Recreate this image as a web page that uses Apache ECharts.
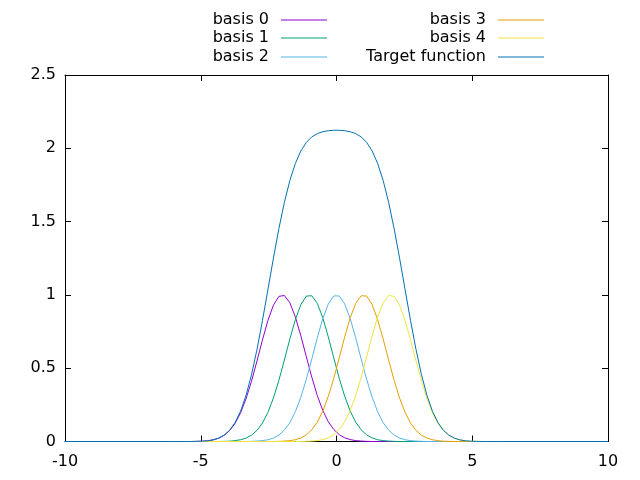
<!DOCTYPE html>
<html>
<head>
<meta charset="utf-8">
<script src="https://cdn.jsdelivr.net/npm/echarts@6/dist/echarts.min.js"></script>
<style>html,body{margin:0;padding:0;background:#fff}#c{width:640px;height:480px}</style>
</head>
<body>
<div id="c"></div>
<script>
// Sample positions (x)
var xs = [-10,
 -5.960,-5.758,-5.556,-5.354,-5.152,-4.949,-4.747,-4.545,-4.343,-4.141,
 -3.939,-3.737,-3.535,-3.333,-3.131,-2.929,-2.727,-2.525,-2.323,-2.121,
 -1.919,-1.717,-1.515,-1.313,-1.111,-0.909,-0.707,-0.505,-0.303,-0.101,
 0.101,0.303,0.505,0.707,0.909,1.111,1.313,1.515,1.717,1.919,
 2.121,2.323,2.525,2.727,2.929,3.131,3.333,3.535,3.737,3.939,
 4.141,4.343,4.545,4.747,4.949,5.152,5.354,5.556,5.758,5.960,
 10];

var basis0 = [0,
 0,0,0,0,0.001,0.002,0.005,0.011,0.022,0.042,
 0.074,0.123,0.195,0.291,0.411,0.549,0.693,0.826,0.930,0.990,
 0.996,0.946,0.849,0.721,0.578,0.438,0.313,0.212,0.135,0.082,
 0.047,0.025,0.013,0.006,0.003,0.001,0,0,0,0,
 0,0,0,0,0,0,0,0,0,0,
 0,0,0,0,0,0,0,0,0,0,
 0];

var basis1 = [0,
 0,0,0,0,0,0,0,0,0,0.001,
 0.002,0.006,0.012,0.023,0.043,0.076,0.126,0.199,0.297,0.418,
 0.556,0.700,0.832,0.934,0.992,0.994,0.942,0.844,0.714,0.571,
 0.431,0.308,0.207,0.132,0.080,0.045,0.024,0.012,0.006,0.003,
 0.001,0,0,0,0,0,0,0,0,0,
 0,0,0,0,0,0,0,0,0,0,
 0];

var basis2 = [0,
 0,0,0,0,0,0,0,0,0,0,
 0,0,0,0,0.001,0.003,0.006,0.012,0.024,0.044,
 0.078,0.129,0.203,0.302,0.424,0.563,0.707,0.838,0.938,0.993,
 0.993,0.938,0.838,0.707,0.563,0.424,0.302,0.203,0.129,0.078,
 0.044,0.024,0.012,0.006,0.003,0.001,0,0,0,0,
 0,0,0,0,0,0,0,0,0,0,
 0];

var basis3 = [0,
 0,0,0,0,0,0,0,0,0,0,
 0,0,0,0,0,0,0,0,0,0.001,
 0.003,0.006,0.012,0.024,0.045,0.080,0.132,0.207,0.308,0.431,
 0.571,0.714,0.844,0.942,0.994,0.992,0.934,0.832,0.700,0.556,
 0.418,0.297,0.199,0.126,0.076,0.043,0.023,0.012,0.006,0.002,
 0.001,0,0,0,0,0,0,0,0,0,
 0];

var basis4 = [0,
 0,0,0,0,0,0,0,0,0,0,
 0,0,0,0,0,0,0,0,0,0,
 0,0,0,0,0.001,0.003,0.006,0.013,0.025,0.047,
 0.082,0.135,0.212,0.313,0.438,0.578,0.721,0.849,0.946,0.996,
 0.990,0.930,0.826,0.693,0.549,0.411,0.291,0.195,0.123,0.074,
 0.042,0.022,0.011,0.005,0.002,0.001,0,0,0,0,
 0];

var target = [0,
 0,0,0,0,0.001,0.002,0.005,0.011,0.023,0.043,
 0.076,0.129,0.206,0.314,0.455,0.627,0.825,1.037,1.251,1.453,
 1.632,1.781,1.897,1.982,2.040,2.078,2.100,2.113,2.120,2.123,
 2.123,2.120,2.113,2.100,2.078,2.040,1.982,1.897,1.781,1.632,
 1.453,1.251,1.037,0.825,0.627,0.455,0.314,0.206,0.129,0.076,
 0.043,0.023,0.011,0.005,0.002,0.001,0,0,0,0,
 0];

var seriesNames = ['basis 0','basis 1','basis 2','basis 3','basis 4','Target function'];
var seriesValues = [basis0, basis1, basis2, basis3, basis4, target];
var colors = ['#9400d3','#009e73','#56b4e9','#e69f00','#f0e442','#0072b2'];
var xTicks = [-10,-5,0,5,10];
var yTicks = [0,0.5,1,1.5,2,2.5];

function pairs(v){ return xs.map(function(x,i){ return [x, v[i]]; }); }

var FONT = 'DejaVu Sans';
var FS = 16;
var series = seriesNames.map(function(n,i){
  return {
    name: n, type: 'line', data: pairs(seriesValues[i]),
    showSymbol: false, symbol: 'none', smooth: false, animation: false,
    lineStyle: {color: colors[i], width: 1}, itemStyle: {color: colors[i]},
    xAxisIndex: 0, yAxisIndex: 0, z: 2 + i
  };
});

// legend positions: right edge of line sample per column, top per row
var legRight = [313,313,313,96,96,96];
var legTop = [12,30,49,12,30,49];
var legends = seriesNames.map(function(n,i){
  return {
    data: [{name: n, icon: 'rect'}], right: legRight[i], top: legTop[i], align: 'right', orient: 'horizontal',
    itemWidth: 46, itemHeight: 1, padding: 0,
    itemStyle: {color: colors[i], borderWidth: 0},
    textStyle: {fontFamily: FONT, fontSize: FS, color: '#000', padding: [0, 7, 0, 0]},
    selectedMode: false
  };
});

var axisCommon = {
  type: 'value',
  axisLine: {show: true, onZero: false, lineStyle: {color: '#000', width: 1}},
  axisTick: {show: true, inside: true, length: 6, lineStyle: {color: '#000'}},
  splitLine: {show: false}
};

var chart = echarts.init(document.getElementById('c'), null, {renderer: 'canvas'});
chart.setOption({
  backgroundColor: '#fff',
  animation: false,
  color: colors,
  legend: legends,
  grid: {left: 65, right: 32, top: 75, bottom: 38.5, containLabel: false},
  xAxis: [
    Object.assign({}, axisCommon, {min: xTicks[0], max: xTicks[xTicks.length-1], interval: 5, position: 'bottom',
      axisLabel: {fontFamily: FONT, fontSize: FS, color: '#000', margin: 12}}),
    Object.assign({}, axisCommon, {min: xTicks[0], max: xTicks[xTicks.length-1], interval: 5, position: 'top',
      axisLabel: {show: false}})
  ],
  yAxis: [
    Object.assign({}, axisCommon, {min: yTicks[0], max: yTicks[yTicks.length-1], interval: 0.5, position: 'left',
      axisLabel: {fontFamily: FONT, fontSize: FS, color: '#000', margin: 9}}),
    Object.assign({}, axisCommon, {min: yTicks[0], max: yTicks[yTicks.length-1], interval: 0.5, position: 'right',
      axisLabel: {show: false}})
  ],
  series: series
});
</script>
</body>
</html>
